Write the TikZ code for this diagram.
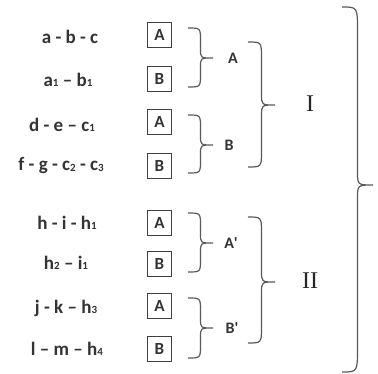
\documentclass[tikz,border=0pt]{standalone}
\usepackage{fontspec}
\setmainfont{Carlito}
\newfontfamily\serifroman{Liberation Serif}
\newcommand\sbs[1]{\raisebox{-0.5pt}{\fontsize{11}{11}\selectfont #1}}
\begin{document}
\begin{tikzpicture}[x=1pt,y=-1pt,
  item/.style={font=\fontsize{19}{21}\selectfont\bfseries, text=black!80, inner sep=0pt},
  letterbox/.style={draw=black!75, line width=1.3pt, minimum width=24pt, minimum height=25pt, inner sep=0pt, font=\fontsize{17}{19}\selectfont\bfseries, text=black!80},
  lab/.style={font=\fontsize{16}{18}\selectfont\bfseries, text=black!80, inner sep=0pt},
  roman/.style={font=\serifroman\fontsize{24}{26}\selectfont, text=black!85, inner sep=0pt},
  bracestyle/.style={draw=black!65, line width=1.2pt}]
\useasboundingbox (0,0) rectangle (378,374);
% brace macro: x0, ytop, ybot, xtip, ytip, rend, rtip
\newcommand\mybrace[7]{%
  \pgfmathsetmacro\xm{(#1+#4)/2}%
  \draw[bracestyle] (#1,#2) .. controls (\xm,#2) and (\xm,#2) .. (\xm,#2+#6)
    -- (\xm,#5-#7) .. controls (\xm,#5) and (\xm,#5) .. (#4,#5)
    .. controls (\xm,#5) and (\xm,#5) .. (\xm,#5+#7)
    -- (\xm,#3-#6) .. controls (\xm,#3) and (\xm,#3) .. (#1,#3);}
% left texts
\node[item] (t1) at (70,37) {a - b - c};
\node[item] (t2) at (68,80) {a\sbs{1} -- b\sbs{1}};
\node[item] (t3) at (62,125) {d - e -- c\sbs{1}};
\node[item] (t4) at (61,166) {f - g - c\sbs{2} - c\sbs{3}};
\node[item] (t5) at (67,223) {h - i - h\sbs{1}};
\node[item] (t6) at (66,263) {h\sbs{2} -- i\sbs{1}};
\node[item] (t7) at (66,308) {j - k -- h\sbs{3}};
\node[item] (t8) at (67,349) {l -- m -- h\sbs{4}};
% boxes
\node[letterbox] (b1) at (159.5,35) {A};
\node[letterbox] (b2) at (159.5,79) {B};
\node[letterbox] (b3) at (159.5,122) {A};
\node[letterbox] (b4) at (159.5,166) {B};
\node[letterbox] (b5) at (159.5,223) {A};
\node[letterbox] (b6) at (159.5,264) {B};
\node[letterbox] (b7) at (159.5,306) {A};
\node[letterbox] (b8) at (159.5,349) {B};
% small braces
\mybrace{188}{28}{87}{213}{58}{13}{9}
\mybrace{188}{115}{173}{213}{145}{13}{9}
\mybrace{188}{213}{272}{213}{243}{13}{9}
\mybrace{188}{298}{358}{213}{328}{13}{9}
\node[lab] (l1) at (233,58) {A};
\node[lab] (l2) at (229,145) {B};
\node[lab] (l3) at (231,243) {A\textquotesingle};
\node[lab] (l4) at (232,328) {B\textquotesingle};
% middle braces
\mybrace{248}{42}{167}{275}{105}{16}{11}
\mybrace{248}{217}{343}{275}{282}{16}{11}
\node[roman] (r1) at (310,104) {I};
\node[roman] (r2) at (310,281) {II};
% big brace
\mybrace{342}{7}{372}{373}{185}{24}{14}
\end{tikzpicture}
\end{document}
